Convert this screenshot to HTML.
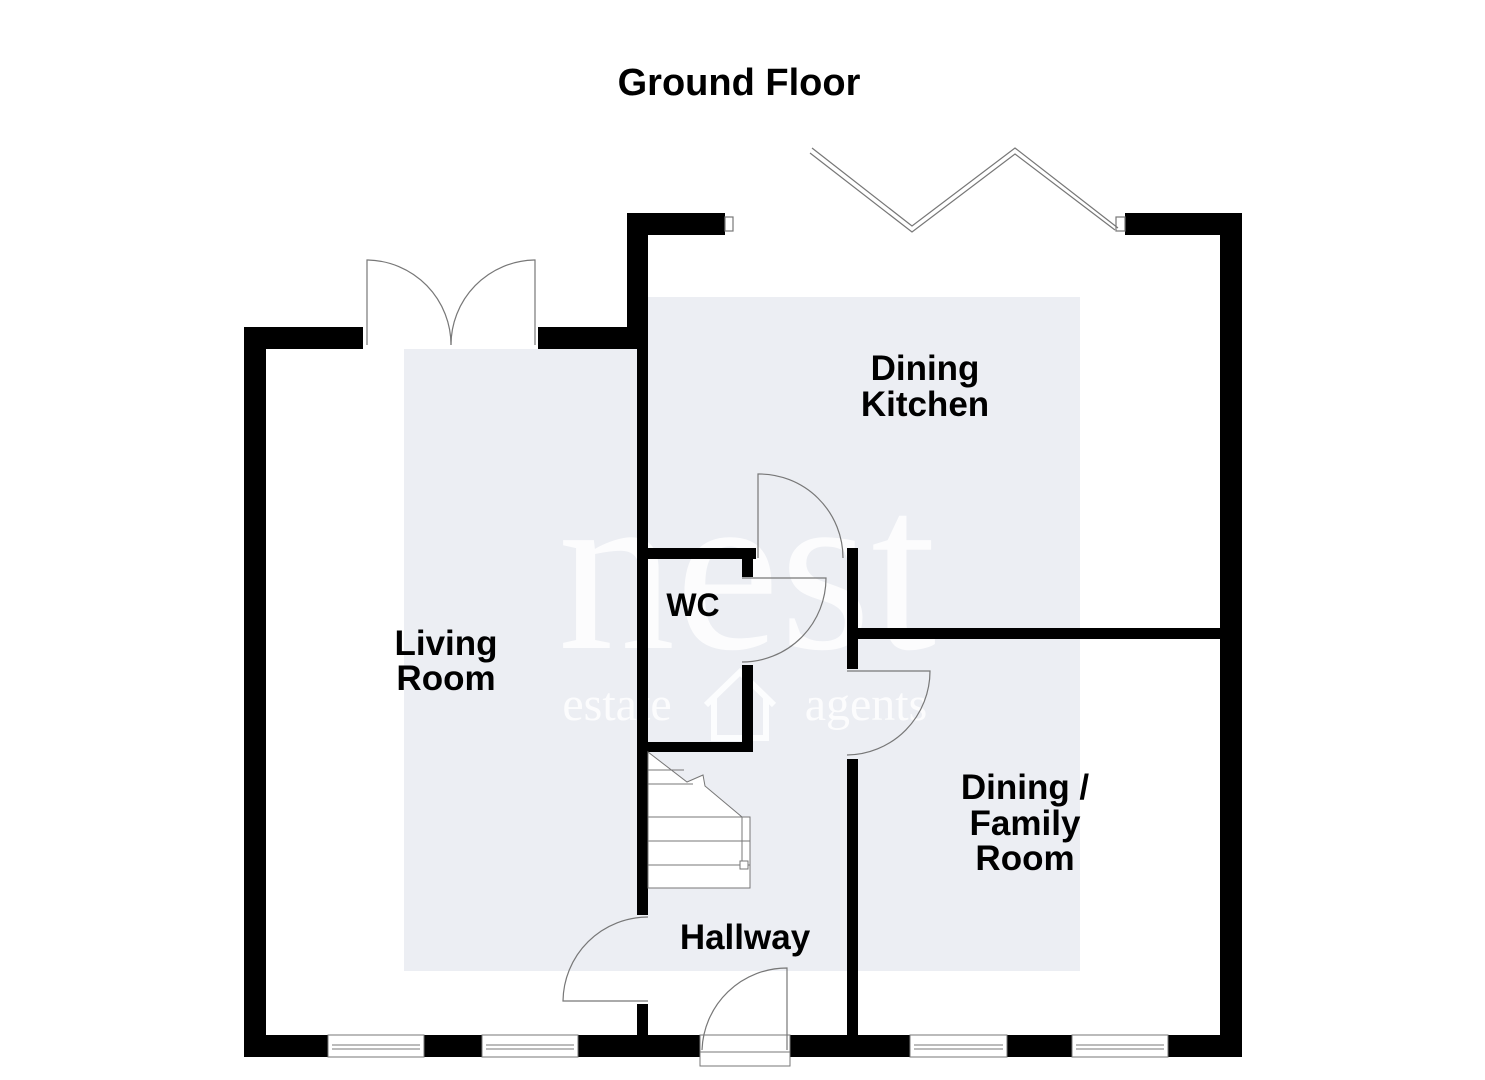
<!DOCTYPE html>
<html><head><meta charset="utf-8"><style>
html,body{margin:0;padding:0;background:#fff;}
svg{display:block;}
text{font-family:"Liberation Sans",sans-serif;font-weight:bold;fill:#000;}
</style></head><body>
<svg width="1485" height="1080" viewBox="0 0 1485 1080" xmlns="http://www.w3.org/2000/svg">
<rect width="1485" height="1080" fill="#fff"/>
<rect x="404" y="349" width="676" height="622" fill="#eceef3"/>
<rect x="648" y="297" width="432" height="60" fill="#eceef3"/>
<text x="747" y="648" font-size="235" text-anchor="middle" style="font-family:'Liberation Serif',serif;font-weight:normal;fill:#fff;opacity:0.85">nest</text>
<text x="617" y="720" font-size="48" text-anchor="middle" style="font-family:'Liberation Serif',serif;font-weight:normal;fill:#fff;opacity:0.85">estate</text>
<text x="866" y="720" font-size="48" text-anchor="middle" style="font-family:'Liberation Serif',serif;font-weight:normal;fill:#fff;opacity:0.85">agents</text>
<path d="M706 705 L740 672 L774 705 M714 698 V738 H766 V698" fill="none" stroke="#fff" stroke-width="6" opacity="0.85"/>

<g fill="#000">
<rect x="244" y="327" width="22" height="730"/>
<rect x="244" y="327" width="119" height="22"/>
<rect x="538" y="327" width="110" height="22"/>
<rect x="627" y="213" width="21" height="136"/>
<rect x="627" y="213" width="98" height="22"/>
<rect x="1125" y="213" width="117" height="22"/>
<rect x="1220" y="213" width="22" height="844"/>
<rect x="244" y="1035" width="998" height="22"/>
<rect x="637" y="349" width="11" height="566"/>
<rect x="637" y="1004" width="11" height="31"/>
<rect x="648" y="548" width="108" height="11"/>
<rect x="742" y="548" width="11" height="29"/>
<rect x="742" y="665" width="11" height="87"/>
<rect x="648" y="742" width="105" height="10"/>
<rect x="847" y="548" width="11" height="121"/>
<rect x="857" y="628" width="363" height="11"/>
<rect x="847" y="759" width="11" height="276"/>
</g>

<g fill="#fff" stroke="#777" stroke-width="1">
<rect x="328" y="1035" width="96" height="22"/>
<rect x="482" y="1035" width="96" height="22"/>
<rect x="910" y="1035" width="97" height="22"/>
<rect x="1072" y="1035" width="96" height="22"/>
<rect x="700" y="1035" width="90" height="31"/>
</g>
<g stroke="#777" stroke-width="1" fill="none">
<path d="M332 1045 H420 M332 1049 H420 M486 1045 H574 M486 1049 H574 M914 1045 H1003 M914 1049 H1003 M1076 1045 H1164 M1076 1049 H1164 M700 1052 H790"/>
</g>

<g fill="none" stroke="#777" stroke-width="1.2">
<path d="M367 345 V260 H368 A85 85 0 0 1 451 345"/>
<path d="M535 345 V260 H534 A85 85 0 0 0 451 345"/>
<path d="M812 148 L912 226 L1015 148 L1118 228"/>
<path d="M810 153 L912 232 L1015 154 L1115 230"/>
<rect x="725" y="217" width="8" height="14"/>
<rect x="1116" y="217" width="9" height="14"/>
<path d="M758 558 V474 A84 84 0 0 1 843 558"/>
<path d="M742 578 H826 A84 84 0 0 1 742 662"/>
<path d="M847 671 H930 A84 84 0 0 1 847 755"/>
<path d="M648 917 A85 85 0 0 0 563 1001 H648"/>
<path d="M787 1050 V968 A85 85 0 0 0 702 1050"/>
</g>

<g fill="#fff" stroke="#777" stroke-width="1">
<path d="M648 752 L687 782 L703 775 L705 786 L742 817 L750 817 L750 888 L648 888 Z"/>
<path d="M648 770 H684 M648 784 H693 M648 817 H742 M648 841 H750 M648 865 H750" fill="none"/>
<rect x="740" y="861" width="8" height="8"/>
<path d="M742 817 V861" fill="none"/>
</g>

<text x="739" y="95" font-size="38" text-anchor="middle">Ground Floor</text>
<text x="925" y="380" font-size="35" text-anchor="middle">Dining</text>
<text x="925" y="416" font-size="35" text-anchor="middle">Kitchen</text>
<text x="446" y="655" font-size="35" text-anchor="middle">Living</text>
<text x="446" y="690" font-size="35" text-anchor="middle">Room</text>
<text x="693" y="616" font-size="32" text-anchor="middle">WC</text>
<text x="1025" y="799" font-size="35" text-anchor="middle">Dining /</text>
<text x="1025" y="835" font-size="35" text-anchor="middle">Family</text>
<text x="1025" y="870" font-size="35" text-anchor="middle">Room</text>
<text x="745" y="949" font-size="35" text-anchor="middle">Hallway</text>
</svg>
</body></html>
